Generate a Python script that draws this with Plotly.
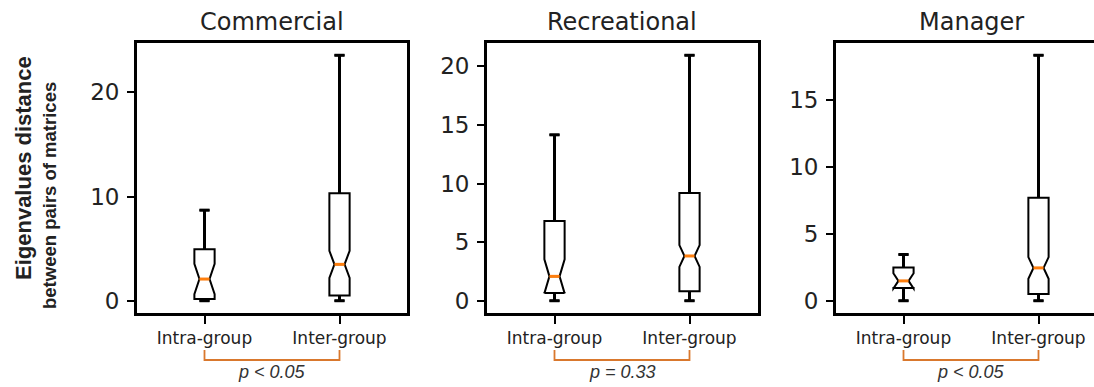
import plotly.graph_objects as go

# ---- data -------------------------------------------------------------
panels = ["Commercial", "Recreational", "Manager"]
groups = ["Intra-group", "Inter-group"]
positions = [1, 2]

# per panel: [Intra-group, Inter-group]
whisker_low = [[0.0, 0.0], [0.0, 0.0], [0.0, 0.0]]
q1_vals = [[0.16, 0.51], [0.65, 0.80], [0.95, 0.50]]
median_vals = [[2.08, 3.49], [2.08, 3.82], [1.48, 2.45]]
q3_vals = [[4.94, 10.32], [6.81, 9.20], [2.48, 7.68]]
whisker_high = [[8.69, 23.55], [14.16, 20.95], [3.45, 18.32]]
notch_half = [[1.45, 1.30], [1.45, 0.93], [0.57, 0.81]]

y_dticks = [10, 5, 5]
p_labels = ["p < 0.05", "p = 0.33", "p < 0.05"]

# ---- layout constants -------------------------------------------------
W, H = 1094, 387
box_width = 0.15
cap_half = box_width * 0.25
x_domains = [(137 / W, 407 / W), (487 / W, 758 / W), (836 / W, 1.0)]
px_per_unit = 135.0
y_domain = (1 - 313 / H, 1 - 43 / H)

fig = go.Figure()
annotations = []
shapes = []

for i, name in enumerate(panels):
    ax = "" if i == 0 else str(i + 1)
    xref, yref = "x" + ax, "y" + ax

    fig.add_trace(go.Box(
        x=positions,
        q1=q1_vals[i], median=median_vals[i], q3=q3_vals[i],
        lowerfence=whisker_low[i], upperfence=whisker_high[i],
        notched=True, notchspan=notch_half[i], notchwidth=0.25,
        width=box_width, whiskerwidth=0.5,
        line=dict(color="black", width=2.0),
        fillcolor="rgba(0,0,0,0)", boxpoints=False,
        hoverinfo="skip", showlegend=False,
        xaxis=xref, yaxis=yref,
    ))

    # whiskers and caps drawn heavier than the box outline
    wx, wy = [], []
    for p, lo, a, b, hi in zip(positions, whisker_low[i], q1_vals[i], q3_vals[i], whisker_high[i]):
        wx += [p, p, None, p, p, None, p - cap_half, p + cap_half, None, p - cap_half, p + cap_half, None]
        wy += [lo, a, None, b, hi, None, lo, lo, None, hi, hi, None]
    fig.add_trace(go.Scatter(x=wx, y=wy, mode="lines",
                             line=dict(color="black", width=3.0),
                             hoverinfo="skip", showlegend=False,
                             xaxis=xref, yaxis=yref))

    # orange median bars across the notch waist
    mx, my = [], []
    for p, m in zip(positions, median_vals[i]):
        mx += [p - box_width * 0.25, p + box_width * 0.25, None]
        my += [m, m, None]
    fig.add_trace(go.Scatter(x=mx, y=my, mode="lines",
                             line=dict(color="#ff7f0e", width=3.0),
                             hoverinfo="skip", showlegend=False,
                             xaxis=xref, yaxis=yref))

    # axis ranges: data extent plus 5% padding
    lo_all = min(whisker_low[i])
    hi_all = max(whisker_high[i])
    pad = 0.05 * (hi_all - lo_all)
    d0, d1 = x_domains[i]
    x_hi = 0.5 + (d1 - d0) * W / px_per_unit

    fig.update_layout({
        "xaxis" + ax: dict(
            domain=[d0, d1], range=[0.5, x_hi], anchor=yref,
            tickvals=positions, ticktext=groups,
            ticks="outside", ticklen=8, tickwidth=2.4, tickcolor="black",
            showline=True, mirror=True, linecolor="black", linewidth=2.8,
            showgrid=False, zeroline=False,
            tickfont=dict(family="DejaVu Sans", size=17, color="#222"),
        ),
        "yaxis" + ax: dict(
            domain=list(y_domain), range=[lo_all - pad, hi_all + pad], anchor=xref,
            dtick=y_dticks[i], tick0=0,
            ticks="outside", ticklen=7, tickwidth=2.4, tickcolor="black",
            ticklabelstandoff=3,
            showline=True, mirror=(i < 2), linecolor="black", linewidth=2.8,
            showgrid=False, zeroline=False,
            tickfont=dict(family="DejaVu Sans", size=23, color="#222"),
        ),
    })

    # panel title
    annotations.append(dict(
        text=name, xref="paper", yref="paper",
        x=d0 + px_per_unit / W, y=1 - 22 / H,
        xanchor="center", yanchor="middle", showarrow=False,
        font=dict(family="DejaVu Sans", size=24, color="#222"),
    ))

    # significance bracket between the two groups
    br_top, br_bot = 1 - 350 / H, 1 - 360 / H
    shapes.append(dict(
        type="path", xref=xref, yref="paper",
        path=f"M {positions[0]},{br_top} L {positions[0]},{br_bot} "
             f"L {positions[1]},{br_bot} L {positions[1]},{br_top}",
        line=dict(color="#d9782d", width=1.8),
    ))
    annotations.append(dict(
        text=f"<i>{p_labels[i]}</i>", xref=xref, yref="paper",
        x=sum(positions) / 2, y=1 - 372 / H,
        xanchor="center", yanchor="middle", showarrow=False,
        font=dict(family="Liberation Sans", size=18, color="#333"),
    ))

# y-axis caption, two rotated lines
annotations.append(dict(
    text="<b>Eigenvalues distance</b>", xref="paper", yref="paper",
    x=23 / W, y=1 - 168 / H, textangle=-90,
    xanchor="center", yanchor="middle", showarrow=False,
    font=dict(family="Liberation Sans", size=22, color="#222"),
))
annotations.append(dict(
    text="<b>between pairs of matrices</b>", xref="paper", yref="paper",
    x=49 / W, y=1 - 196 / H, textangle=-90,
    xanchor="center", yanchor="middle", showarrow=False,
    font=dict(family="Liberation Sans", size=18.5, color="#222"),
))

fig.update_layout(
    width=W, height=H, autosize=False,
    margin=dict(l=0, r=0, t=0, b=0),
    paper_bgcolor="white", plot_bgcolor="white",
    annotations=annotations, shapes=shapes,
    showlegend=False,
)

fig.write_html("out.html")
